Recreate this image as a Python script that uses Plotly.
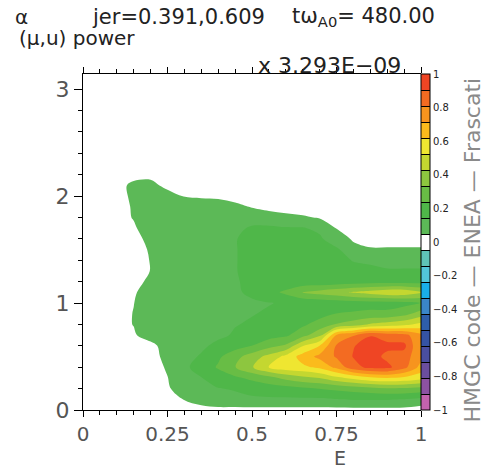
import plotly.graph_objects as go

# ---- data ----
E_grid = [0.0, 0.05, 0.1, 0.15, 0.2, 0.25, 0.3, 0.35, 0.4, 0.45, 0.5,
          0.55, 0.6, 0.65, 0.7, 0.75, 0.8, 0.85, 0.9, 0.95, 1.0]
alpha_grid = [0.0, 0.1, 0.2, 0.3, 0.4, 0.5, 0.6, 0.7, 0.8, 0.9, 1.0, 1.1,
              1.2, 1.3, 1.4, 1.5, 1.6, 1.7, 1.8, 1.9, 2.0, 2.1, 2.2, 3.2]

power_rows = [
    [0, 0, 0, 0, 0, 0, 0, 0, 0.02, 0.02, 0.02, 0.02, 0.02, 0.02, 0.02, 0.02, 0.02, 0.02, 0.02, 0.02, 0],
    [0, 0, 0, 0, 0, 0, 0.053, 0.11, 0.12, 0.12, 0.13, 0.13, 0.13, 0.13, 0.13, 0.14, 0.15, 0.15, 0.15, 0.14, 0.12],
    [0, 0, 0, 0, 0, 0.03, 0.12, 0.12, 0.14, 0.15, 0.17, 0.19, 0.2, 0.22, 0.24, 0.26, 0.28, 0.3, 0.32, 0.32, 0.3],
    [0, 0, 0, 0, 0, 0.045, 0.12, 0.14, 0.18, 0.22, 0.26, 0.3, 0.36, 0.4, 0.43, 0.5, 0.55, 0.6, 0.62, 0.6, 0.56],
    [0, 0, 0, 0, 0, 0.06, 0.13, 0.17, 0.25, 0.33, 0.42, 0.53, 0.58, 0.6, 0.64, 0.74, 0.87, 0.93, 0.93, 0.84, 0.68],
    [0, 0, 0, 0, 0, 0.086, 0.12, 0.15, 0.22, 0.3, 0.38, 0.46, 0.55, 0.66, 0.74, 0.82, 0.91, 0.95, 0.88, 0.86, 0.73],
    [0, 0, 0, 0, 0, 0.12, 0.12, 0.13, 0.16, 0.2, 0.24, 0.3, 0.35, 0.52, 0.62, 0.82, 0.9, 0.94, 0.93, 0.93, 0.7],
    [0, 0, 0, 0.03, 0.12, 0.12, 0.12, 0.12, 0.13, 0.15, 0.17, 0.2, 0.22, 0.3, 0.4, 0.72, 0.8, 0.9, 0.86, 0.84, 0.74],
    [0, 0, 0, 0.052, 0.12, 0.12, 0.12, 0.12, 0.12, 0.14, 0.15, 0.16, 0.18, 0.22, 0.28, 0.34, 0.38, 0.44, 0.47, 0.5, 0.55],
    [0, 0, 0, 0.052, 0.12, 0.12, 0.12, 0.12, 0.12, 0.13, 0.14, 0.15, 0.16, 0.18, 0.2, 0.24, 0.25, 0.26, 0.26, 0.3, 0.38],
    [0, 0, 0, 0.045, 0.12, 0.12, 0.12, 0.12, 0.12, 0.13, 0.13, 0.14, 0.15, 0.16, 0.17, 0.18, 0.19, 0.2, 0.2, 0.21, 0.24],
    [0, 0, 0, 0.03, 0.12, 0.12, 0.12, 0.12, 0.12, 0.13, 0.16, 0.2, 0.26, 0.34, 0.37, 0.4, 0.44, 0.47, 0.5, 0.5, 0.44],
    [0, 0, 0, 0, 0.08, 0.12, 0.12, 0.12, 0.12, 0.14, 0.15, 0.16, 0.16, 0.17, 0.17, 0.18, 0.19, 0.2, 0.2, 0.2, 0.2],
    [0, 0, 0, 0, 0.05, 0.12, 0.12, 0.12, 0.12, 0.14, 0.16, 0.16, 0.16, 0.16, 0.16, 0.16, 0.16, 0.16, 0.15, 0.15, 0.15],
    [0, 0, 0, 0, 0.052, 0.12, 0.12, 0.12, 0.12, 0.14, 0.16, 0.16, 0.16, 0.16, 0.16, 0.16, 0.14, 0.13, 0.12, 0.12, 0.12],
    [0, 0, 0, 0, 0.06, 0.12, 0.12, 0.12, 0.12, 0.14, 0.16, 0.16, 0.16, 0.16, 0.16, 0.16, 0.067, 0.06, 0.06, 0.06, 0.06],
    [0, 0, 0, 0, 0.089, 0.12, 0.12, 0.12, 0.12, 0.14, 0.16, 0.16, 0.16, 0.16, 0.16, 0.08, 0.04, 0, 0, 0, 0],
    [0, 0, 0, 0.03, 0.12, 0.12, 0.12, 0.12, 0.12, 0.13, 0.15, 0.15, 0.15, 0.15, 0.12, 0.045, 0, 0, 0, 0, 0],
    [0, 0, 0, 0.055, 0.12, 0.12, 0.12, 0.12, 0.12, 0.12, 0.12, 0.12, 0.08, 0.06, 0.04, 0, 0, 0, 0, 0, 0],
    [0, 0, 0, 0.06, 0.12, 0.12, 0.12, 0.12, 0.12, 0.08, 0.04, 0, 0, 0, 0, 0, 0, 0, 0, 0, 0],
    [0, 0, 0, 0.073, 0.12, 0.12, 0.04, 0.03, 0.02, 0, 0, 0, 0, 0, 0, 0, 0, 0, 0, 0, 0],
    [0, 0, 0, 0.08, 0.1, 0, 0, 0, 0, 0, 0, 0, 0, 0, 0, 0, 0, 0, 0, 0, 0],
    [0, 0, 0, 0, 0, 0, 0, 0, 0, 0, 0, 0, 0, 0, 0, 0, 0, 0, 0, 0, 0],
    [0, 0, 0, 0, 0, 0, 0, 0, 0, 0, 0, 0, 0, 0, 0, 0, 0, 0, 0, 0, 0],
]

x_tick_vals = [0, 0.25, 0.5, 0.75, 1]
x_tick_text = ["0", "0.25", "0.5", "0.75", "1"]
y_tick_vals = [0, 1, 2, 3]
y_tick_text = ["0", "1", "2", "3"]
cb_tick_vals = [-1, -0.8, -0.6, -0.4, -0.2, 0, 0.2, 0.4, 0.6, 0.8, 1]
cb_tick_text = ["\u22121", "\u22120.8", "\u22120.6", "\u22120.4", "\u22120.2", "0",
                "0.2", "0.4", "0.6", "0.8", "1"]

# 21 colour bands, from -1 (bottom) to +1 (top)
band_colors = [
    "#c462ae", "#8c52a2", "#6b4e9f", "#4a4ea0", "#3553a3", "#2e5eaa",
    "#3a86c8", "#19aee8", "#52c6d8", "#5fc4b6", "#ffffff",
    "#5cb957", "#4fb749", "#68bd45", "#8dc63f", "#c4d730",
    "#efe631", "#fbbb1c", "#f7941e", "#f36b22", "#ef4524",
]

n = len(band_colors)
colorscale = []
for k, c in enumerate(band_colors):
    lo = max(0.0, (k - 0.5) / (n - 1))
    hi = min(1.0, (k + 0.5) / (n - 1))
    colorscale.append([lo, c])
    colorscale.append([hi, c])

step = 2.0 / n
contour_spec = dict(start=-1 + step, end=1 - step, size=step, coloring="fill")

fig = go.Figure()

fig.add_trace(go.Contour(
    x=E_grid, y=alpha_grid, z=power_rows,
    zmin=-1, zmax=1, autocontour=False,
    contours=dict(showlines=False, **contour_spec),
    colorscale=colorscale, showscale=False,
    line=dict(width=0, smoothing=1),
    hoverinfo="skip",
))

# colour-bar carrier (drawn off-range so only its colour bar shows)
fig.add_trace(go.Contour(
    x=[0, 1], y=[0, 1], z=[[-1, 1], [1, -1]],
    xaxis="x2", yaxis="y2",
    zmin=-1, zmax=1, autocontour=False,
    contours=dict(showlines=True, **contour_spec),
    colorscale=colorscale,
    line=dict(color="black", width=1),
    hoverinfo="skip",
    colorbar=dict(
        x=1.0, xanchor="left", xpad=0, y=0.5, yanchor="middle", ypad=0,
        len=1.0, lenmode="fraction", thickness=9,
        outlinecolor="black", outlinewidth=1,
        tickvals=cb_tick_vals, ticktext=cb_tick_text, ticks="",
        tickfont=dict(family="DejaVu Sans", size=10, color="#222"),
    ),
))

fig.update_layout(
    width=484, height=471,
    margin=dict(l=83, r=63, t=74, b=61),
    paper_bgcolor="white", plot_bgcolor="white",
    showlegend=False,
    xaxis=dict(
        range=[0, 1], tickvals=x_tick_vals, ticktext=x_tick_text,
        ticks="outside", ticklen=6, tickwidth=1, tickcolor="black",
        showline=True, linecolor="black", linewidth=1, mirror="allticks",
        minor=dict(dtick=0.05, tick0=0, ticks="outside", ticklen=4, tickcolor="black"),
        showgrid=False, zeroline=False,
        tickfont=dict(family="DejaVu Sans", size=20, color="#555"),
    ),
    yaxis=dict(
        range=[0, 3.14159], tickvals=y_tick_vals, ticktext=y_tick_text,
        ticks="outside", ticklen=8, tickwidth=1, tickcolor="black",
        showline=True, linecolor="black", linewidth=1,
        minor=dict(dtick=0.2, tick0=0, ticks="outside", ticklen=4, tickcolor="black"),
        showgrid=False, zeroline=False,
        tickfont=dict(family="DejaVu Sans", size=22, color="#555"),
    ),
    xaxis2=dict(domain=[0, 1], range=[5, 6], visible=False, anchor="y2", overlaying="x"),
    yaxis2=dict(domain=[0, 1], range=[5, 6], visible=False, anchor="x2", overlaying="y"),
)

title_font = dict(family="DejaVu Sans", color="#222")
ann = [
    dict(text="\u03b1", x=-0.183, y=1.17, xanchor="center", yanchor="middle", font=dict(size=20, **title_font)),
    dict(text="jer=0.391,0.609", x=0.021, y=1.17, xanchor="left", yanchor="middle", font=dict(size=21, **title_font)),
    dict(text="t\u03c9<sub>A0</sub>= 480.00", x=0.612, y=1.17, xanchor="left", yanchor="middle", font=dict(size=21, **title_font)),
    dict(text="(\u03bc,u) power", x=-0.195, y=1.107, xanchor="left", yanchor="middle", font=dict(size=20, **title_font)),
    dict(text="x 3.293E\u221209", x=0.512, y=1.024, xanchor="left", yanchor="middle", font=dict(size=22, **title_font)),
    dict(text="E", x=0.76, y=-0.143, xanchor="center", yanchor="middle", font=dict(size=19, family="DejaVu Sans", color="#555")),
    dict(text="HMGC code \u2014 ENEA \u2014 Frascati", x=1.152, y=0.476, xanchor="center", yanchor="middle",
         textangle=-90, font=dict(size=22, family="DejaVu Sans", color="#8a8a8a")),
]
for a in ann:
    fig.add_annotation(xref="paper", yref="paper", showarrow=False, **a)

fig.write_html("out.html")
